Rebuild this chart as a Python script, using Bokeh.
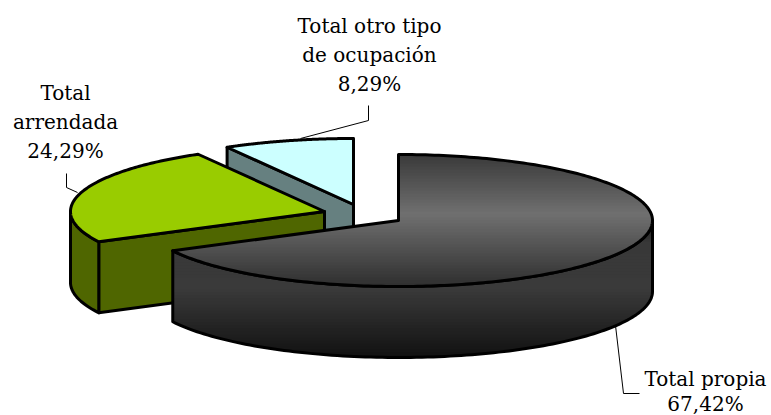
import numpy as np
from bokeh.plotting import figure
from bokeh.embed import file_html
from bokeh.resources import INLINE
from bokeh.core.properties import value

categories = ["Total propia", "Total arrendada", "Total otro tipo de ocupación"]
shares = [67.42, 24.29, 8.29]
labels = [["Total propia", "67,42%"], ["Total", "arrendada", "24,29%"],
          ["Total otro tipo", "de ocupación", "8,29%"]]
top_colors = ["#6e6e6e", "#99cc00", "#ccffff"]
side_colors = ["#333333", "#4f6600", "#668080"]

RX, RY, DEPTH = 254, 66, 71
centers = [(398, 220), (324, 211), (353, 204)]
label_pos = [(705, [378, 403]), (65, [92, 121, 150]), (369, [25, 54, 83])]
leaders = [([615, 623, 639], [325, 393, 393]),
           ([77, 66, 66], [192, 187, 173]),
           ([300, 368, 368], [138, 120, 105])]
OUTLINE = 3

p = figure(width=771, height=415, x_range=(0, 771), y_range=(415, 0),
           toolbar_location=None, output_backend="svg", min_border=0,
           margin=(0, 0, 0, 0))
p.axis.visible = False
p.grid.visible = False
p.outline_line_color = None
p.background_fill_color = "white"
p.border_fill_color = "white"


def arc(c, a0, a1, n=120):
    t = np.radians(np.linspace(a0, a1, n))
    return c[0] + RX * np.cos(t), c[1] - RY * np.sin(t)


def clip_below(xs, ys, y0):
    """Part of a closed polygon with y >= y0."""
    ox, oy = [], []
    for i in range(len(xs)):
        x1, y1, x2, y2 = xs[i], ys[i], xs[(i + 1) % len(xs)], ys[(i + 1) % len(xs)]
        if y1 >= y0:
            ox.append(x1); oy.append(y1)
        if (y1 >= y0) != (y2 >= y0):
            f = (y0 - y1) / (y2 - y1)
            ox.append(x1 + f * (x2 - x1)); oy.append(y0)
    return ox, oy


def grey(v):
    v = int(round(v))
    return f"#{v:02x}{v:02x}{v:02x}"


def shaded(xs, ys, stops_y, stops_v, step=3):
    """Vertical grey ramp, painted from the top down."""
    y = min(ys)
    while y < max(ys):
        cx, cy = clip_below(list(xs), list(ys), y)
        if len(cx) > 2:
            p.patch(cx, cy, fill_color=grey(np.interp(y, stops_y, stops_v)), line_color=None)
        y += step


# turn the shares into angles, clockwise from twelve o'clock
bounds = 90 - np.cumsum([0] + shares) * 3.6
spans = [(bounds[i], bounds[i + 1]) for i in range(3)]

# --- slice 3: otro tipo
c = centers[2]; a0, a1 = spans[2]
ex, ey = arc(c, a0, a0, 1)
p.patch([ex[0], c[0], c[0], ex[0]], [ey[0], c[1], c[1] + DEPTH, ey[0] + DEPTH],
        fill_color=side_colors[2], line_color="black", line_width=OUTLINE, line_join="round")
ax, ay = arc(c, a0, a1)
p.patch(np.r_[c[0], ax], np.r_[c[1], ay], fill_color=top_colors[2], line_color="black",
        line_width=OUTLINE, line_join="round")

# --- slice 2: arrendada
c = centers[1]; a0, a1 = spans[1]
ex, ey = arc(c, a0, a0, 1)
# inner wall facing the viewer, from the outer end to the apex
p.patch([ex[0], c[0], c[0], ex[0]], [ey[0], c[1], c[1] + DEPTH, ey[0] + DEPTH],
        fill_color=side_colors[1], line_color="black", line_width=OUTLINE, line_join="round")
wx, wy = arc(c, a0, -180)
p.patch(np.r_[wx, wx[::-1]], np.r_[wy, wy[::-1] + DEPTH], fill_color=side_colors[1],
        line_color="black", line_width=OUTLINE, line_join="round")
ax, ay = arc(c, a0, a1)
p.patch(np.r_[c[0], ax], np.r_[c[1], ay], fill_color=top_colors[1], line_color="black",
        line_width=OUTLINE, line_join="round")

# --- slice 1: propia
c = centers[0]; a0, a1 = spans[0]
wx, wy = arc(c, 0, a1)
wall_x, wall_y = np.r_[wx, wx[::-1]], np.r_[wy, wy[::-1] + DEPTH]
shaded(wall_x, wall_y, [220, 240, 287, 357], [28, 56, 58, 16])
p.patch(wall_x, wall_y, fill_color=None, line_color="black", line_width=OUTLINE, line_join="round")
ax, ay = arc(c, a0, a1, 240)
top_x, top_y = np.r_[c[0], ax], np.r_[c[1], ay]
shaded(top_x, top_y, [153, 212, 285], [58, 112, 46])
p.patch(top_x, top_y, fill_color=None, line_color="black", line_width=OUTLINE, line_join="round")

# --- leaders and labels
for (lx, ly) in leaders:
    p.line(lx, ly, line_color="black", line_width=1)
for (x, ys), lines in zip(label_pos, labels):
    p.text([x] * len(lines), ys, text=lines, text_align="center", text_baseline="middle",
           text_font=value("DejaVu Serif"), text_font_size="20px", text_color="black")

open("out.html", "w").write(file_html(p, INLINE))
